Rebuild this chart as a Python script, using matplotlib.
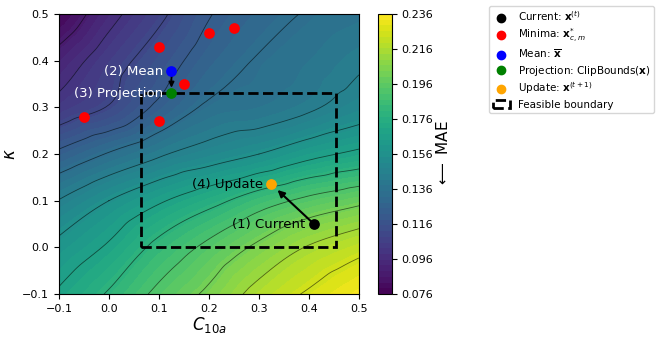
import matplotlib
matplotlib.use('Agg')
import matplotlib.pyplot as plt
import matplotlib.tri as mtri
from matplotlib.patches import Rectangle
from matplotlib.lines import Line2D
import numpy as np

# grid of MAE values (rows: kappa, cols: C10a)
c10a_grid = [-0.1, 0.0, 0.1, 0.2, 0.3, 0.4, 0.5]
kappa_grid = [-0.1, 0.0, 0.1, 0.2, 0.3, 0.4, 0.5]
mae_grid = [
    [0.169, 0.180, 0.193, 0.204, 0.217, 0.226, 0.234],
    [0.159, 0.169, 0.182, 0.193, 0.204, 0.214, 0.221],
    [0.145, 0.156, 0.166, 0.175, 0.185, 0.193, 0.199],
    [0.124, 0.134, 0.143, 0.150, 0.156, 0.164, 0.170],
    [0.103, 0.111, 0.124, 0.135, 0.138, 0.143, 0.150],
    [0.092, 0.105, 0.116, 0.127, 0.134, 0.138, 0.143],
    [0.078, 0.095, 0.108, 0.121, 0.129, 0.134, 0.137],
]
cbar_ticks = [0.076, 0.096, 0.116, 0.136, 0.156, 0.176, 0.196, 0.216, 0.236]

current = (0.41, 0.05)
update = (0.325, 0.135)
mean = (0.125, 0.377)
projection = (0.125, 0.33)
minima_x = [-0.05, 0.10, 0.10, 0.15, 0.20, 0.25]
minima_y = [0.28, 0.27, 0.43, 0.35, 0.46, 0.47]
bounds_x = (0.065, 0.455)
bounds_y = (0.0, 0.33)

fig = plt.figure(figsize=(6.65, 3.38), dpi=100)
ax = fig.add_axes([0.0887, 0.130, 0.4511, 0.8286])
cax = fig.add_axes([0.5685, 0.130, 0.021, 0.8286])

X, Y = np.meshgrid(c10a_grid, kappa_grid)
Z = np.array(mae_grid)
tri = mtri.Triangulation(X.ravel(), Y.ravel())
refiner = mtri.UniformTriRefiner(tri)
interp = mtri.CubicTriInterpolator(tri, Z.ravel(), kind='geom')
tri_f, z_f = refiner.refine_field(Z.ravel(), triinterpolator=interp, subdiv=4)
z_f = np.clip(z_f, 0.0761, 0.2359)

levels = np.linspace(0.076, 0.236, 50)
cf = ax.tricontourf(tri_f, z_f, levels=levels, cmap='viridis')
ax.tricontour(tri_f, z_f, levels=np.linspace(0.076, 0.236, 15)[1:-1], colors='black',
              linewidths=0.6, alpha=0.55)

ax.add_patch(Rectangle((bounds_x[0], bounds_y[0]), bounds_x[1] - bounds_x[0],
                       bounds_y[1] - bounds_y[0], fill=False, ls='--', lw=2,
                       ec='black', zorder=3))

ms = 45
ax.scatter(minima_x, minima_y, s=ms, color='red', zorder=4)
ax.scatter(*current, s=ms, color='black', zorder=5)
ax.scatter(*update, s=ms, color='orange', zorder=5)
ax.scatter(*mean, s=ms, color='blue', zorder=5)
ax.scatter(*projection, s=ms, color='green', zorder=5)

ax.annotate('', xy=(update[0] + 0.008, update[1] - 0.008), xytext=current,
            arrowprops=dict(arrowstyle='-|>', color='black', lw=1.5,
                            mutation_scale=10, shrinkA=3, shrinkB=2), zorder=4)
ax.annotate('', xy=(projection[0], projection[1] + 0.012), xytext=mean,
            arrowprops=dict(arrowstyle='-|>', color='black', lw=1.2,
                            mutation_scale=8, shrinkA=3, shrinkB=0), zorder=4)

fs = 9.5
ax.text(current[0] - 0.017, current[1], '(1) Current', ha='right', va='center', fontsize=fs, color='black')
ax.text(mean[0] - 0.017, mean[1], '(2) Mean', ha='right', va='center', fontsize=fs, color='white')
ax.text(projection[0] - 0.017, projection[1], '(3) Projection', ha='right', va='center', fontsize=fs, color='white')
ax.text(update[0] - 0.017, update[1], '(4) Update', ha='right', va='center', fontsize=fs, color='black')

ax.set_xlim(-0.1, 0.5)
ax.set_ylim(-0.1, 0.5)
ax.set_xticks([-0.1, 0.0, 0.1, 0.2, 0.3, 0.4, 0.5])
ax.set_yticks([-0.1, 0.0, 0.1, 0.2, 0.3, 0.4, 0.5])
ax.tick_params(labelsize=8)
ax.set_xlabel(r'$C_{10a}$', fontsize=12, labelpad=1)
ax.set_ylabel(r'$\kappa$', fontsize=12, labelpad=2)

cb = fig.colorbar(cf, cax=cax, ticks=cbar_ticks)
cb.ax.set_yticklabels([f'{t:.3f}' for t in cbar_ticks])
cb.ax.tick_params(labelsize=8)
cb.set_label(r'$\longleftarrow$ MAE', fontsize=11, labelpad=1)

handles = [
    Line2D([], [], marker='o', ls='', color='black', ms=6, label=r'Current: $\mathbf{x}^{(t)}$'),
    Line2D([], [], marker='o', ls='', color='red', ms=6, label=r'Minima: $\mathbf{x}^{*}_{c,m}$'),
    Line2D([], [], marker='o', ls='', color='blue', ms=6, label=r'Mean: $\overline{\mathbf{x}}$'),
    Line2D([], [], marker='o', ls='', color='green', ms=6, label=r'Projection: ClipBounds($\mathbf{x}$)'),
    Line2D([], [], marker='o', ls='', color='orange', ms=6, label=r'Update: $\mathbf{x}^{(t+1)}$'),
    Rectangle((0, 0), 1, 1, fill=False, ls='--', lw=2, ec='black', label='Feasible boundary'),
]
fig.legend(handles=handles, loc='upper left', bbox_to_anchor=(0.728, 0.998),
           fontsize=7.5, frameon=True, handlelength=1.6, labelspacing=0.3,
           borderpad=0.35, handletextpad=0.8)

fig.savefig('out.png', dpi=100)
